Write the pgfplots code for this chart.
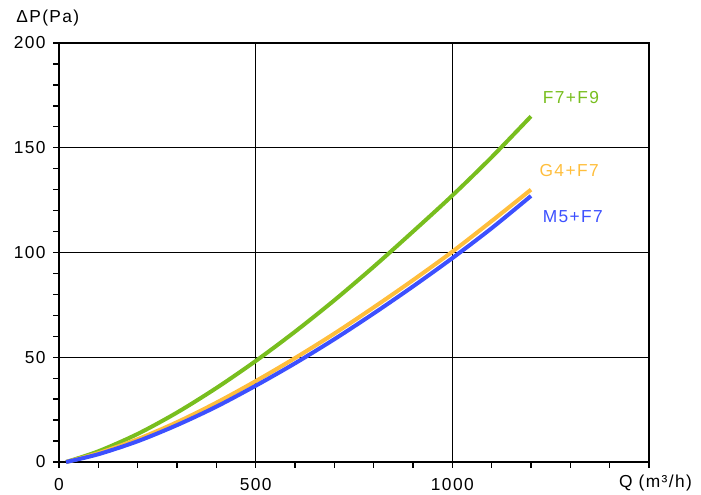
\documentclass[border=0pt]{standalone}
\usepackage{fontspec}
\setmainfont{Liberation Sans}[LetterSpace=8]
\usepackage{pgfplots}
\pgfplotsset{compat=1.18}
\definecolor{cgreen}{HTML}{78BE1E}
\definecolor{corange}{HTML}{FFBE3C}
\definecolor{cblue}{HTML}{3C50FF}
\begin{document}
\begin{tikzpicture}
\begin{axis}[
 scale only axis, width=442.5pt, height=314.25pt,
 xmin=0,xmax=1500,ymin=0,ymax=200,
 xtick={0,500,1000,1500}, xticklabels={0,500,1000,{}},
 ytick={0,50,100,150,200},
 minor x tick num=4, minor y tick num=4,
 xtick pos=bottom, ytick pos=left,
 tick align=outside, major tick length=4.5pt, minor tick length=4.5pt,
 grid=major, grid style={black, line width=0.8pt},
 axis line style={line width=1.6pt},
 tick style={black, line width=1pt},
 every tick label/.append style={font=\fontsize{13}{15}\selectfont},
 xticklabel style={yshift=-4pt},
 yticklabel style={xshift=-2pt},
 /pgf/number format/assume math mode=true,
 /pgf/number format/1000 sep={},
 clip=false,
]
\addplot[cgreen, line width=3pt, smooth] coordinates {
(18,0) (100,5.1) (200,13.4) (300,23.6) (400,35.3) (500,48.2) (600,62.2) (700,77.2) (800,93.2) (900,110.0) (1000,127.2) (1100,145.5) (1200,165)};
\addplot[corange, line width=3pt, smooth] coordinates {
(18,0) (100,4.2) (200,10.9) (300,19.0) (400,28.3) (500,38.6) (600,49.6) (700,61.3) (800,73.8) (900,86.8) (1000,100.4) (1100,115) (1200,130)};
\addplot[cblue, line width=3pt, smooth] coordinates {
(18,0) (100,3.7) (200,9.9) (300,17.6) (400,26.4) (500,36.4) (600,47.1) (700,58.6) (800,70.9) (900,83.8) (1000,97.3) (1100,111.6) (1200,127)};
\node[anchor=west, text=cgreen, font=\fontsize{13}{15}\selectfont] at (axis cs:1218,174) {F7+F9};
\node[anchor=west, text=corange, font=\fontsize{13}{15}\selectfont] at (axis cs:1210,139) {G4+F7};
\node[anchor=west, text=cblue, font=\fontsize{13}{15}\selectfont] at (axis cs:1218,117) {M5+F7};
\coordinate (sw) at (rel axis cs:0,0);
\coordinate (ne) at (rel axis cs:1,1);
\coordinate (nw) at (rel axis cs:0,1);
\coordinate (se) at (rel axis cs:1,0);
\end{axis}
\node[anchor=west, font=\fontsize{13}{15}\selectfont] at ([shift={(-35.5pt,19pt)}]nw) {ΔP(Pa)};
\node[anchor=west, font=\fontsize{13}{15}\selectfont] at ([shift={(-26pt,-15.75pt)}]se) {Q (m³/h)};
\pgfresetboundingbox
\path ([shift={(-44.25pt,-24.75pt)}]sw) rectangle ([shift={(39pt,32.25pt)}]ne);
\end{tikzpicture}
\end{document}
